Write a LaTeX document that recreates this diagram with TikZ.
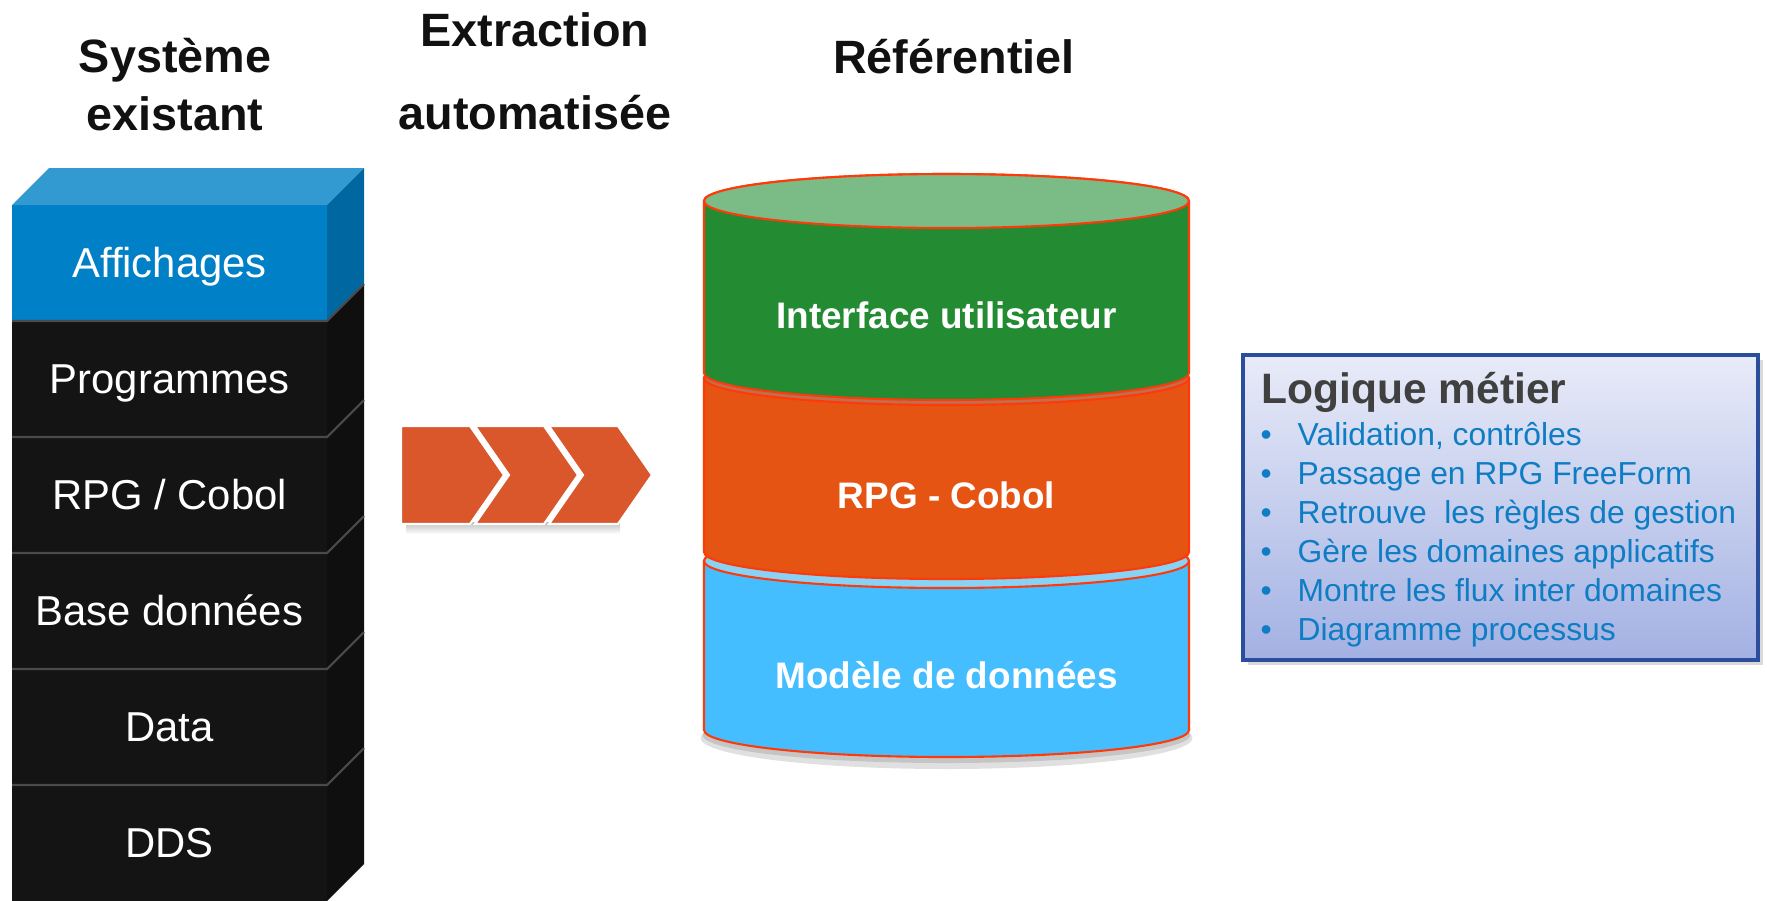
\documentclass[tikz,border=0pt]{standalone}
\usepackage{xcolor}
\usepackage{fontspec}
\setmainfont{Liberation Sans}
\usepackage{tikz}
\usetikzlibrary{positioning,shadows}

\definecolor{stackblue}{HTML}{0080C6}
\definecolor{stacktop}{HTML}{3399D1}
\definecolor{stackside}{HTML}{0067A0}
\definecolor{stackblack}{HTML}{141414}
\definecolor{blackside}{HTML}{0F0F0F}
\definecolor{sepgrey}{HTML}{4A4A4A}
\definecolor{titleblack}{HTML}{111111}
\definecolor{chevorange}{HTML}{D9572B}
\definecolor{cylgreen}{HTML}{238B32}
\definecolor{cylgreentop}{HTML}{7BBB86}
\definecolor{cylorange}{HTML}{E55412}
\definecolor{cylorangetop}{HTML}{BF6E4E}
\definecolor{cylblue}{HTML}{45BEFF}
\definecolor{cylbluetop}{HTML}{88D2F6}
\definecolor{cylrim}{HTML}{FF3A0A}
\definecolor{boxborder}{HTML}{2A4E9C}
\definecolor{boxtop}{HTML}{E8EBF8}
\definecolor{boxbottom}{HTML}{A3B1E3}
\definecolor{itemblue}{HTML}{0F7DC4}
\definecolor{logiquegrey}{HTML}{404040}

\newcommand{\itembullet}{\makebox[0.37cm][l]{\textbullet}}

\tikzset{
	title/.style={font=\fontsize{13.3}{16.5}\selectfont\bfseries, text=titleblack, align=center, inner sep=0pt},
	layer/.style={minimum width=3.15cm, minimum height=1.16cm, inner sep=0pt, outer sep=0pt, text=white,
		text height=0.8em, text depth=0pt, font=\fontsize{11.9}{14}\selectfont},
	sepline/.style={draw=sepgrey, line width=0.6pt},
	chevron/.style={fill=chevorange, draw=white, line width=0.6pt},
	band/.style={draw=cylrim, line width=0.6pt},
	cyltext/.style={anchor=base, inner sep=0pt, text=white, font=\fontsize{10.5}{12}\selectfont\bfseries},
	infobox/.style={draw=boxborder, line width=1pt, top color=boxtop, bottom color=boxbottom, inner sep=0pt,
		drop shadow={shadow xshift=0.05cm, shadow yshift=-0.05cm, opacity=0.3}},
	item/.style={anchor=base west, inner sep=0pt, text=itemblue, font=\fontsize{9.05}{11}\selectfont}
}

\begin{document}
\begin{tikzpicture}
	\useasboundingbox (0,0) rectangle (17.67,-9.00);

	% titles
	\node(existant)[title] at (1.75,-0.85) {Système\\existant};
	\node(extraction)[title] at (5.35,-0.715) {Extraction\\[0.25cm]automatisée};
	\node(referentiel)[title, anchor=base] at (9.54,-0.73) {Référentiel};

	% existing system stack
	\node(affich)[layer, fill=stackblue] at (1.695,-2.63) {Affichages};
	\node(progs)[layer, fill=stackblack, below=0pt of affich] {Programmes};
	\node(rpgcob)[layer, fill=stackblack, below=0pt of progs] {RPG / Cobol};
	\node(base)[layer, fill=stackblack, below=0pt of rpgcob] {Base données};
	\node(data)[layer, fill=stackblack, below=0pt of base] {Data};
	\node(dds)[layer, fill=stackblack, below=0pt of data] {DDS};

	\fill[stacktop] (affich.north west) -- ++(0.37,0.37) -- ++(3.15,0) -- (affich.north east) -- cycle;
	\fill[stackside] (affich.north east) -- ++(0.37,0.37) -- ++(0,-1.16) -- (affich.south east) -- cycle;
	\fill[blackside] (progs.north east) -- ++(0.37,0.37) -- ++(0,-1.16) -- (progs.south east) -- cycle;
	\fill[blackside] (rpgcob.north east) -- ++(0.37,0.37) -- ++(0,-1.16) -- (rpgcob.south east) -- cycle;
	\fill[blackside] (base.north east) -- ++(0.37,0.37) -- ++(0,-1.16) -- (base.south east) -- cycle;
	\fill[blackside] (data.north east) -- ++(0.37,0.37) -- ++(0,-1.16) -- (data.south east) -- cycle;
	\fill[blackside] (dds.north east) -- ++(0.37,0.37) -- ++(0,-1.16) -- (dds.south east) -- cycle;
	\draw[sepline] (progs.north west) -- (progs.north east) -- ++(0.37,0.37);
	\draw[sepline] (rpgcob.north west) -- (rpgcob.north east) -- ++(0.37,0.37);
	\draw[sepline] (base.north west) -- (base.north east) -- ++(0.37,0.37);
	\draw[sepline] (data.north west) -- (data.north east) -- ++(0.37,0.37);
	\draw[sepline] (dds.north west) -- (dds.north east) -- ++(0.37,0.37);

	% extraction chevrons
	\shade[top color=black!25, bottom color=white] (4.06,-5.22) rectangle (6.20,-5.34);
	\draw[chevron] (4.01,-4.26) -- (4.70,-4.26) -- (5.04,-4.75) -- (4.70,-5.24) -- (4.01,-5.24) -- cycle;
	\draw[chevron] (4.75,-4.26) -- (5.44,-4.26) -- (5.78,-4.75) -- (5.44,-5.24) -- (4.75,-5.24) -- (5.09,-4.75) -- cycle;
	\draw[chevron] (5.49,-4.26) -- (6.18,-4.26) -- (6.52,-4.75) -- (6.18,-5.24) -- (5.49,-5.24) -- (5.83,-4.75) -- cycle;

	% repository cylinder
	\fill[black, opacity=0.12] (9.465,-7.38) ellipse [x radius=2.46, y radius=0.31];
	\fill[black, opacity=0.12] (9.465,-7.35) ellipse [x radius=2.44, y radius=0.28];
	\path[band, fill=cylblue] (7.04,-5.61) -- (7.04,-7.30) arc[start angle=180, end angle=360, x radius=2.425, y radius=0.27]
		-- (11.89,-5.61) arc[start angle=0, end angle=180, x radius=2.425, y radius=0.27] -- cycle;
	\path[band, fill=cylbluetop] (9.465,-5.61) ellipse [x radius=2.425, y radius=0.27];
	\path[band, fill=cylorange] (7.04,-3.78) -- (7.04,-5.52) arc[start angle=180, end angle=360, x radius=2.425, y radius=0.27]
		-- (11.89,-3.78) arc[start angle=0, end angle=180, x radius=2.425, y radius=0.27] -- cycle;
	\path[band, fill=cylorangetop] (9.465,-3.78) ellipse [x radius=2.425, y radius=0.27];
	\path[band, fill=cylgreen] (7.04,-2.01) -- (7.04,-3.73) arc[start angle=180, end angle=360, x radius=2.425, y radius=0.27]
		-- (11.89,-2.01) arc[start angle=0, end angle=180, x radius=2.425, y radius=0.27] -- cycle;
	\path[band, fill=cylgreentop] (9.465,-2.01) ellipse [x radius=2.425, y radius=0.27];

	\node(iface)[cyltext] at (9.465,-3.28) {Interface utilisateur};
	\node(rpgcobol)[cyltext] at (9.465,-5.08) {RPG - Cobol};
	\node(modele)[cyltext] at (9.465,-6.88) {Modèle de données};

	% business logic box
	\node(logique)[infobox, anchor=north west, minimum width=5.15cm, minimum height=3.05cm] at (12.41,-3.53) {};
	\node(logtitle)[anchor=base west, inner sep=0pt, text=logiquegrey, font=\fontsize{12.1}{14}\selectfont\bfseries] at (12.61,-4.03) {Logique métier};
	\node(item1)[item] at (12.60,-4.45) {\itembullet Validation, contrôles};
	\node(item2)[item] at (12.60,-4.84) {\itembullet Passage en RPG FreeForm};
	\node(item3)[item] at (12.60,-5.23) {\itembullet Retrouve\ \ les règles de gestion};
	\node(item4)[item] at (12.60,-5.62) {\itembullet Gère les domaines applicatifs};
	\node(item5)[item] at (12.60,-6.01) {\itembullet Montre les flux inter domaines};
	\node(item6)[item] at (12.60,-6.40) {\itembullet Diagramme processus};
\end{tikzpicture}
\end{document}
